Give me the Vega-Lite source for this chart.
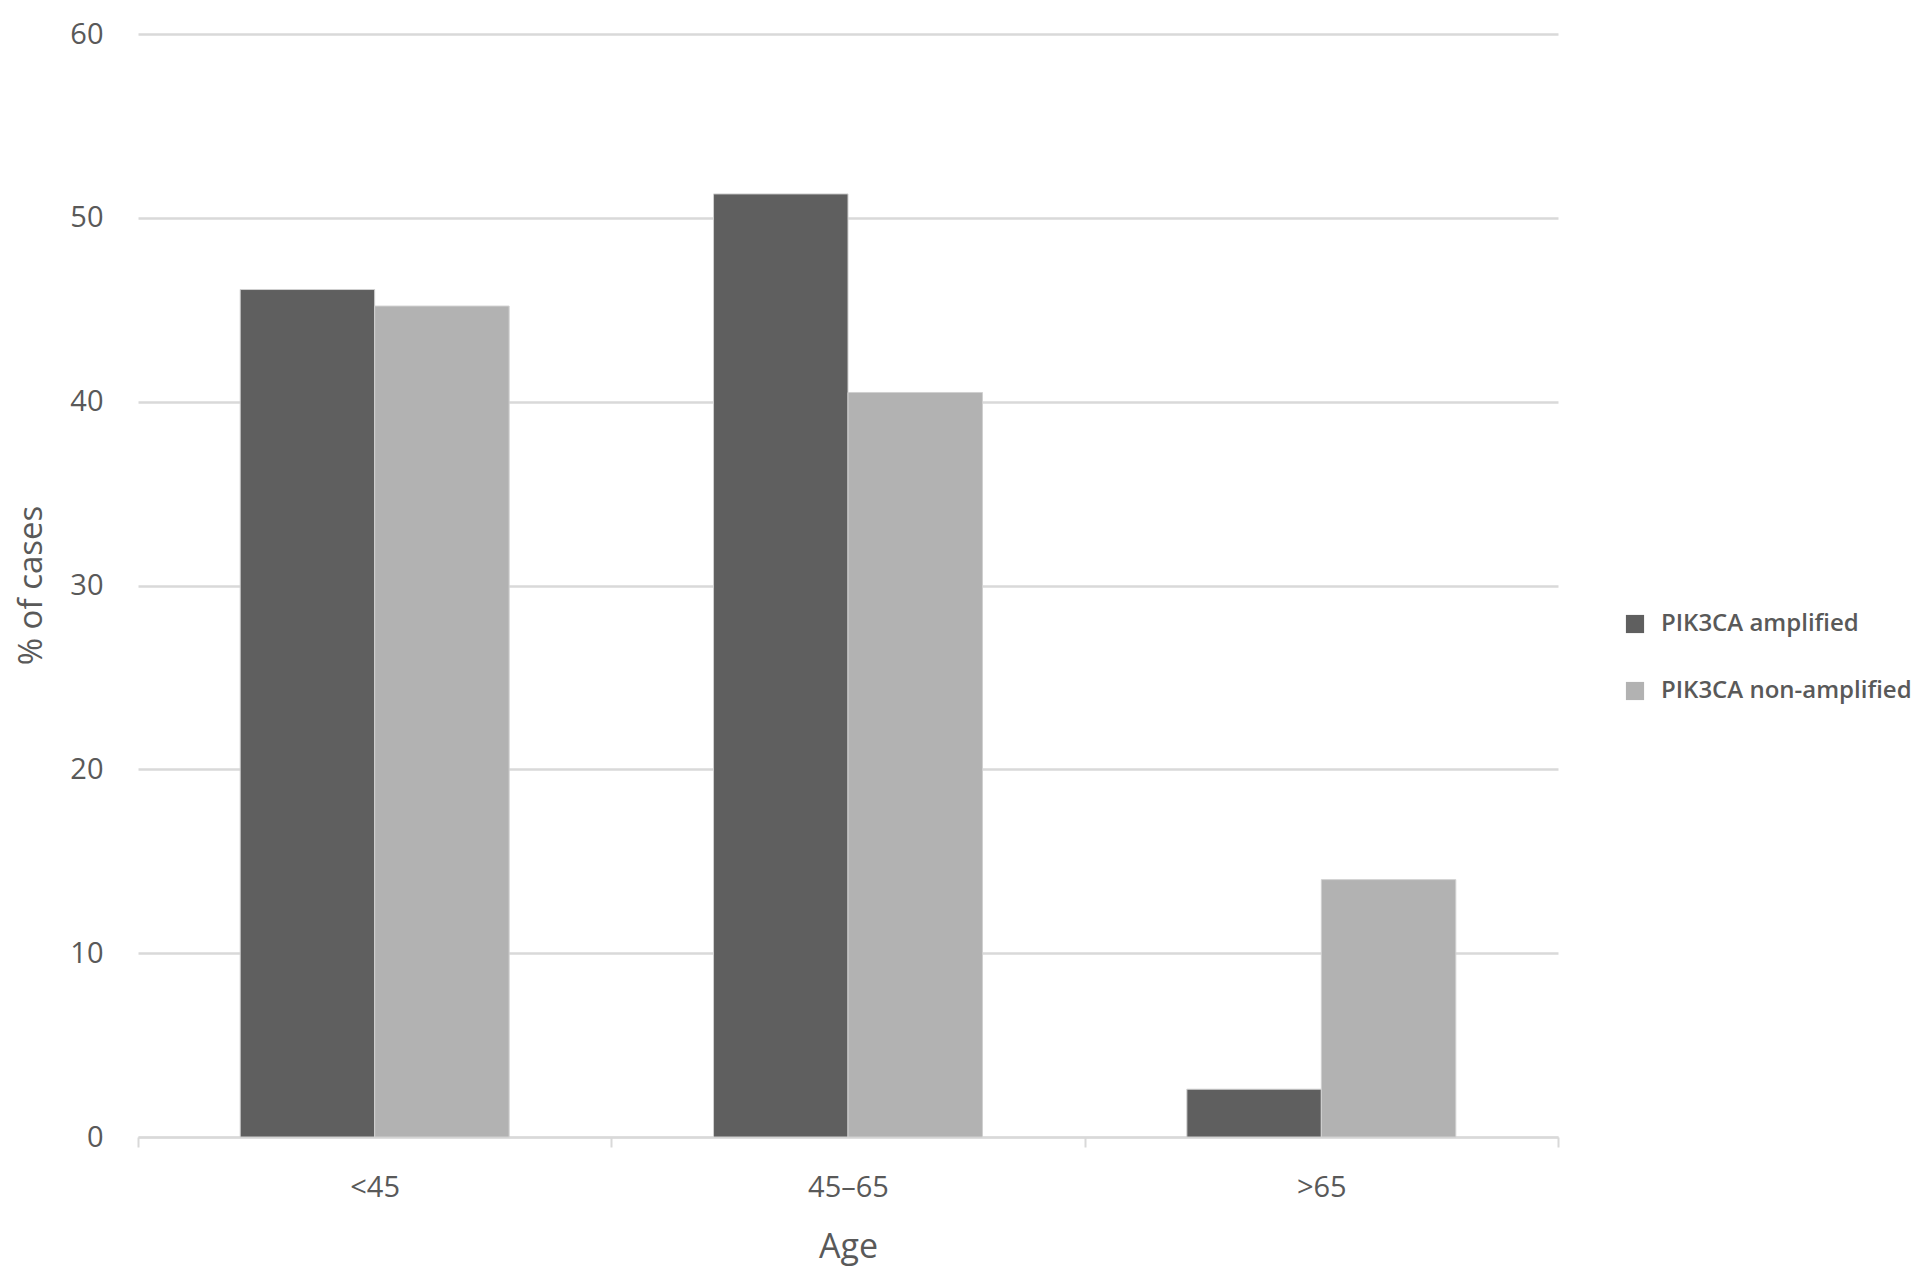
{
  "$schema": "https://vega.github.io/schema/vega-lite/v6.json",
  "autosize": {"type": "none"},
  "padding": {"left": 138, "top": 34, "right": 374, "bottom": 137},
  "width": 1420,
  "height": 1103,
  "background": "white",
  "data": {"values": [
    {"age": "<45", "group": "PIK3CA amplified", "pct": 46.1},
    {"age": "<45", "group": "PIK3CA non-amplified", "pct": 45.2},
    {"age": "45–65", "group": "PIK3CA amplified", "pct": 51.3},
    {"age": "45–65", "group": "PIK3CA non-amplified", "pct": 40.5},
    {"age": ">65", "group": "PIK3CA amplified", "pct": 2.6},
    {"age": ">65", "group": "PIK3CA non-amplified", "pct": 14.0}
  ]},
  "config": {
    "font": "Open Sans",
    "view": {"stroke": null}
  },
  "mark": {"type": "bar", "stroke": "#d0d0d0", "strokeWidth": 1},
  "encoding": {
    "x": {
      "field": "age", "type": "nominal", "sort": ["<45", "45–65", ">65"],
      "scale": {"paddingInner": 0, "paddingOuter": 0},
      "axis": {
        "title": "Age", "titleFontSize": 34, "titleColor": "#595959", "titleFontWeight": "normal",
        "titleY": 110, "titleBaseline": "middle",
        "labelAngle": 0, "labelFontSize": 29, "labelColor": "#595959", "labelPadding": 26,
        "domainColor": "#d9d9d9", "domainWidth": 2,
        "ticks": true, "tickBand": "extent", "tickColor": "#d9d9d9", "tickWidth": 2, "tickSize": 10
      }
    },
    "xOffset": {"field": "group", "type": "nominal", "scale": {"paddingInner": 0, "paddingOuter": 0.76}},
    "y": {
      "field": "pct", "type": "quantitative",
      "scale": {"domain": [0, 60]},
      "axis": {
        "title": "% of cases", "titleFontSize": 33, "titleColor": "#595959", "titleFontWeight": "normal",
        "titleX": -107, "titleY": 551, "titleAngle": -90, "titleAlign": "center", "titleBaseline": "middle",
        "values": [0, 10, 20, 30, 40, 50, 60],
        "labelFontSize": 29, "labelColor": "#595959", "labelPadding": 35,
        "ticks": false, "domain": false,
        "grid": true, "gridColor": "#d9d9d9", "gridWidth": 2.5
      }
    },
    "color": {
      "field": "group", "type": "nominal",
      "scale": {"domain": ["PIK3CA amplified", "PIK3CA non-amplified"], "range": ["#5f5f5f", "#b2b2b2"]},
      "legend": {
        "title": null, "orient": "none", "legendX": 1485, "legendY": 578,
        "symbolType": "square", "symbolSize": 330, "symbolStrokeWidth": 0,
        "labelFontSize": 24, "labelColor": "#595959", "labelFontWeight": 600, "labelLimit": 400,
        "rowPadding": 43, "labelOffset": 14
      }
    }
  }
}
